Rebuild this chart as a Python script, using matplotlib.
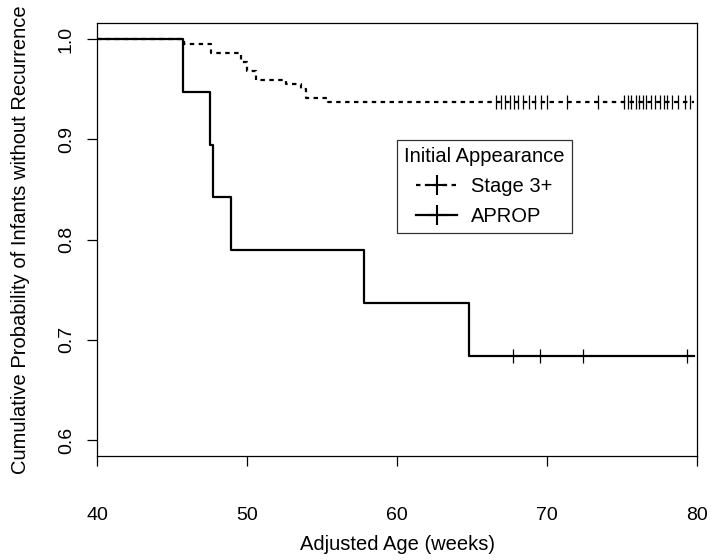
import matplotlib.pyplot as plt

plt.rcParams['font.family'] = ['Liberation Sans', 'DejaVu Sans']

## 1. Data
# APROP: event times (weeks) and survival after each event
aprop_times = [45.7, 47.5, 47.7, 48.9, 57.8, 64.8]
aprop_surv = [18/19, 17/19, 16/19, 15/19, 14/19, 13/19]
aprop_censor = [67.7, 69.5, 72.4, 79.3]
aprop_end = 79.8

# Stage 3+
s3_times = [45.8, 47.6, 49.6, 50.0, 50.6, 52.6, 53.6, 53.9, 55.4]
s3_surv = [0.9955, 0.9865, 0.977, 0.968, 0.959, 0.955, 0.950, 0.941, 0.937]
s3_censor = [66.6, 66.9, 67.2, 67.5, 67.8, 68.1, 68.4, 68.8, 69.2, 69.6, 70.0,
             71.3, 73.4,
             75.1, 75.4, 75.6, 75.9, 76.1, 76.4, 76.6, 76.9, 77.2, 77.5,
             77.8, 78.0, 78.3, 78.7, 79.2, 79.5]
s3_end = 79.8

xticks = [40, 50, 60, 70, 80]
yticks = [0.6, 0.7, 0.8, 0.9, 1.0]


def km_steps(times, surv, end):
    xs = [40.0] + list(times) + [end]
    ys = [1.0] + list(surv) + [surv[-1]]
    return xs, ys


def surv_at(times, surv, t):
    s = 1.0
    for ti, si in zip(times, surv):
        if ti <= t:
            s = si
    return s


## 2. Plot
fig = plt.figure(figsize=(7.14, 5.6), dpi=100)
ax = fig.add_axes([97/714, 1 - 456/560, 600/714, 433/560])

lw = 1.6
dash = (0, (2, 2))
x, y = km_steps(s3_times, s3_surv, s3_end)
ax.step(x, y, where='post', color='black', lw=lw, linestyle=dash)
ax.plot(s3_censor, [surv_at(s3_times, s3_surv, t) for t in s3_censor],
        linestyle='none', marker='|', ms=10, mew=0.9, color='black')

x, y = km_steps(aprop_times, aprop_surv, aprop_end)
ax.step(x, y, where='post', color='black', lw=lw)
ax.plot(aprop_censor, [surv_at(aprop_times, aprop_surv, t) for t in aprop_censor],
        linestyle='none', marker='|', ms=10, mew=0.9, color='black')

# legend handles
h1, = ax.plot([], [], color='black', lw=lw, linestyle=dash,
              marker='+', ms=14, mew=1.5)
h2, = ax.plot([], [], color='black', lw=lw, marker='+', ms=14, mew=1.5)
leg = ax.legend([h1, h2], ['Stage 3+', 'APROP'], title='Initial Appearance',
                loc='upper left', bbox_to_anchor=(0.5, 0.73), fontsize=14.5,
                title_fontsize=14.5, frameon=True, fancybox=False,
                edgecolor='black', handlelength=2.0, borderpad=0.35,
                borderaxespad=0, labelspacing=0.55, handletextpad=0.7)
leg.get_frame().set_linewidth(0.9)

ax.set_xlim(40, 80)
ax.set_ylim(0.584, 1.016)
ax.set_xticks(xticks)
ax.set_yticks(yticks)
ax.set_yticklabels([f'{v:.1f}' for v in yticks], rotation=90, va='center')
ax.tick_params(labelsize=14, length=7, width=0.9)
ax.tick_params(axis='x', pad=30)
ax.tick_params(axis='y', pad=9)
for s in ax.spines.values():
    s.set_linewidth(0.9)

ax.set_xlabel('Adjusted Age (weeks)', fontsize=14.5, labelpad=8)
ax.set_ylabel('Cumulative Probability of Infants without Recurrence',
              fontsize=14.5, labelpad=20)

plt.savefig('out.png', dpi=100)
plt.close()
